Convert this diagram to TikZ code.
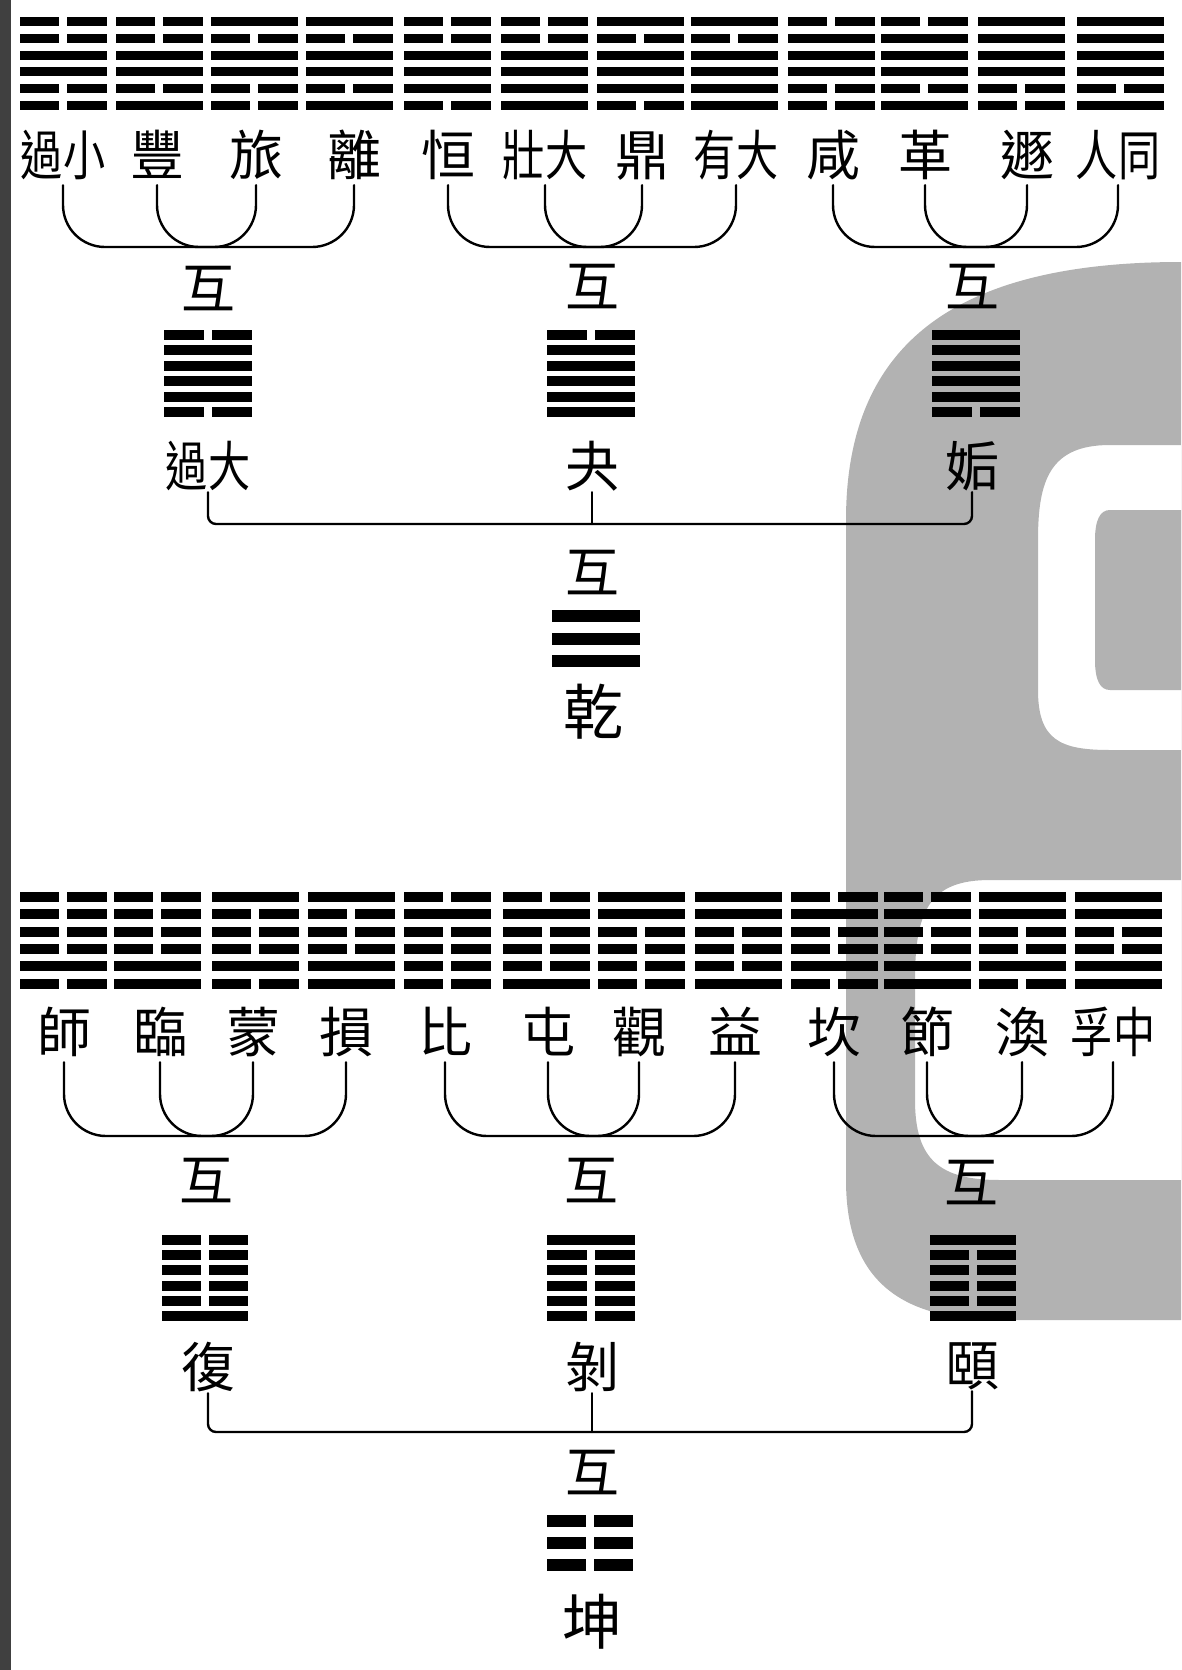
\documentclass[tikz,border=0pt]{standalone}
\usepackage{fontspec}
\usepackage{graphicx}
\newfontfamily\cjk{Noto Sans CJK TC}
\usetikzlibrary{positioning}
\tikzset{
  every picture/.style={line join=round, line cap=round},
  ming/.style={font=\cjk\fontsize{54}{54}\selectfont, inner sep=0pt, text height=43pt, text depth=3pt},
  big/.style={ming, font=\cjk\fontsize{60}{60}\selectfont, text height=48pt},
  brace/.style={line width=2.4pt, rounded corners=42pt},
  link/.style={line width=2.4pt, rounded corners=8pt},
  stem/.style={line width=2.4pt},
  stamp/.style={fill=black!30},
}
% one hexagram (or trigram): centre x, top y, width, bar height, pitch, lines top to bottom
\newcommand\gua[6]{%
  \edef\gualines{#6}%
  \foreach \b [count=\k from 0] in \gualines {
    \ifnum\b=1
      \fill ({#1-#3/2},{#2+\k*#5}) rectangle ++(#3,#4);
    \else
      \fill ({#1-#3/2},{#2+\k*#5}) rectangle ++({#3/2-4},#4);
      \fill ({#1+4},{#2+\k*#5}) rectangle ++({#3/2-4},#4);
    \fi
  }}
\newcommand\two[1]{\scalebox{0.78}[1]{#1}}

\begin{document}
\begin{tikzpicture}[x=1pt,y=-1pt]
\useasboundingbox (0,0) rectangle (1181,1670);
% stamp behind the page
\fill[stamp,even odd rule] (1181,262) .. controls (960,262) and (846,340) .. (846,520) -- (846,1180)
  .. controls (846,1280) and (900,1320) .. (1000,1320) -- (1181,1320) -- cycle
  (1181,445) -- (1110,445) .. controls (1050,445) and (1038,480) .. (1038,540) -- (1038,690)
  .. controls (1038,740) and (1060,750) .. (1110,750) -- (1181,750) -- cycle
  (1181,880) -- (990,880) .. controls (930,880) and (915,910) .. (915,980) -- (915,1100)
  .. controls (915,1160) and (940,1180) .. (1000,1180) -- (1181,1180) -- cycle;
\fill[stamp] (1181,510) -- (1110,510) .. controls (1100,510) and (1095,520) .. (1095,540) -- (1095,660)
  .. controls (1095,680) and (1100,690) .. (1110,690) -- (1181,690) -- cycle;
\fill[black!75] (0,0) rectangle (11,1670);

% upper half
\foreach \x/\p in {63/{0,0,1,1,0,0}, 159/{0,0,1,1,0,1}, 254/{1,0,1,1,0,0}, 349/{1,0,1,1,0,1},
  447/{0,0,1,1,1,0}, 544/{0,0,1,1,1,1}, 640/{1,0,1,1,1,0}, 734/{1,0,1,1,1,1},
  831/{0,1,1,1,0,0}, 924/{0,1,1,1,0,1}, 1021/{1,1,1,1,0,0}, 1120/{1,1,1,1,0,1}}
  \gua{\x}{17}{87}{9}{16.8}{\p};
\foreach \x/\t [count=\i] in {63/{\two{過小}}, 157/豐, 256/旅, 354/離, 448/恒, 545/{\two{壯大}},
  642/鼎, 736/{\two{有大}}, 833/咸, 925/革, 1027/遯, 1118/{\two{人同}}}
  \node[ming] (t\i) at (\x,155) {\t};
\foreach \a/\b/\c/\d in {1/2/3/4, 5/6/7/8, 9/10/11/12}{
  \draw[brace] ([yshift=-7pt]t\a.south) -- (t\a.south |- 0,247) -- (t\d.south |- 0,247) -- ([yshift=-7pt]t\d.south);
  \draw[brace] ([yshift=-7pt]t\b.south) -- (t\b.south |- 0,247) -- (t\c.south |- 0,247) -- ([yshift=-7pt]t\c.south);
}
\node[ming] (h1) at (208,288) {互};
\node[ming] (h2) at (592,286) {互};
\node[ming] (h3) at (972,286) {互};
\gua{208}{330}{88}{10}{15.4}{0,1,1,1,1,0}
\gua{591}{330}{88}{10}{15.4}{0,1,1,1,1,1}
\gua{976}{330}{88}{10}{15.4}{1,1,1,1,1,0}
\node[ming] (m1) at (208,466) {\two{過大}};
\node[ming] (m2) at (592,466) {夬};
\node[ming] (m3) at (972,466) {姤};
\draw[link] ([yshift=-3pt]m1.south) -- (m1.south |- 0,524) -- (m3.south |- 0,524) -- ([yshift=-3pt]m3.south);
\draw[stem] ([yshift=-3pt]m2.south) -- (m2.south |- 0,524);
\node[ming] (h4) at (592,572) {互};
\gua{596}{610}{88}{12}{22.5}{1,1,1}
\node[big] (qian) at (593,712) {乾};

% lower half
\foreach \x/\p in {63/{0,0,0,0,1,0}, 157/{0,0,0,0,1,1}, 255/{1,0,0,0,1,0}, 351/{1,0,0,0,1,1},
  447/{0,1,0,0,0,0}, 546/{0,1,0,0,0,1}, 641/{1,1,0,0,0,0}, 738/{1,1,0,0,0,1},
  834/{0,1,0,0,1,0}, 927/{0,1,0,0,1,1}, 1022/{1,1,0,0,1,0}, 1118/{1,1,0,0,1,1}}
  \gua{\x}{892}{87}{10}{17.3}{\p};
\foreach \x/\t [count=\i] in {64/師, 160/臨, 253/蒙, 346/損, 445/比, 548/屯,
  639/觀, 735/益, 834/坎, 927/節, 1022/渙, 1113/{\two{孚中}}}
  \node[ming] (b\i) at (\x,1032) {\t};
\foreach \a/\b/\c/\d in {1/2/3/4, 5/6/7/8, 9/10/11/12}{
  \draw[brace] ([yshift=-7pt]b\a.south) -- (b\a.south |- 0,1136) -- (b\d.south |- 0,1136) -- ([yshift=-7pt]b\d.south);
  \draw[brace] ([yshift=-7pt]b\b.south) -- (b\b.south |- 0,1136) -- (b\c.south |- 0,1136) -- ([yshift=-7pt]b\c.south);
}
\node[ming] (h5) at (206,1180) {互};
\node[ming] (h6) at (591,1180) {互};
\node[ming] (h7) at (971,1182) {互};
\gua{205}{1235}{86}{10}{15.2}{0,0,0,0,0,1}
\gua{591}{1235}{88}{10}{15.2}{1,0,0,0,0,0}
\gua{973}{1235}{86}{10}{15.2}{1,0,0,0,0,1}
\node[ming] (n1) at (208,1367) {復};
\node[ming] (n2) at (592,1367) {剝};
\node[ming] (n3) at (972,1365) {頤};
\draw[link] ([yshift=-3pt]n1.south) -- (n1.south |- 0,1432) -- (n3.south |- 0,1432) -- ([yshift=-3pt]n3.south);
\draw[stem] ([yshift=-3pt]n2.south) -- (n2.south |- 0,1432);
\node[ming] (h8) at (592,1472) {互};
\gua{590}{1515}{86}{12}{22}{0,0,0}
\node[big] (kun) at (592,1622) {坤};
\end{tikzpicture}
\end{document}
